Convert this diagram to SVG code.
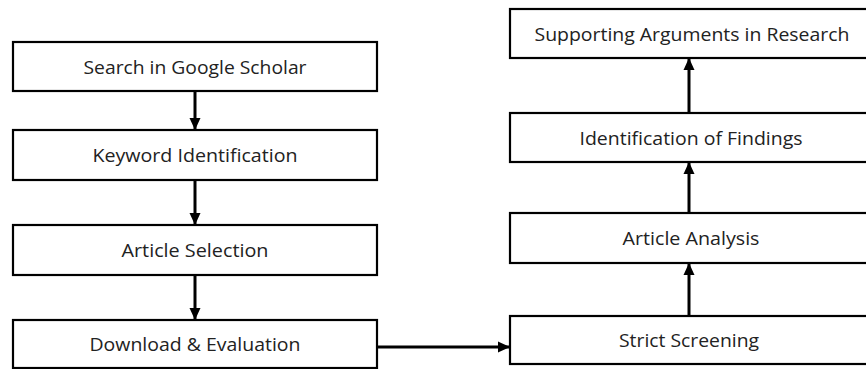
<svg xmlns="http://www.w3.org/2000/svg" width="866" height="369" viewBox="0 0 866 369">
<style>
.box{fill:#fff;stroke:#000;stroke-width:2.2}
.lbl{font-family:"Open Sans","Noto Sans",sans-serif;font-size:18px;fill:#222;text-anchor:middle;dominant-baseline:central}
.con{stroke:#000;stroke-width:3;fill:none}
</style>
<defs>
<marker id="ah" markerUnits="userSpaceOnUse" markerWidth="12" markerHeight="12" viewBox="0 0 12 12" refX="12" refY="6" orient="auto">
<path d="M0,0.5 L12,6 L0,11.5 Z" fill="#000"/>
</marker>
</defs>
<rect width="866" height="369" fill="#fff"/>
<g id="n1"><rect class="box" x="13" y="42" width="364" height="49"/><text class="lbl" x="195" y="66.5" textLength="223" lengthAdjust="spacingAndGlyphs">Search in Google Scholar</text></g>
<g id="n2"><rect class="box" x="13" y="130" width="364" height="50"/><text class="lbl" x="195" y="155" textLength="205" lengthAdjust="spacingAndGlyphs">Keyword Identification</text></g>
<g id="n3"><rect class="box" x="13" y="225" width="364" height="50"/><text class="lbl" x="195" y="250" textLength="147" lengthAdjust="spacingAndGlyphs">Article Selection</text></g>
<g id="n4"><rect class="box" x="13" y="320" width="364" height="48"/><text class="lbl" x="195" y="344" textLength="211" lengthAdjust="spacingAndGlyphs">Download &amp; Evaluation</text></g>
<g id="n5"><rect class="box" x="510" y="316" width="360" height="48"/><text class="lbl" x="689" y="340" textLength="140" lengthAdjust="spacingAndGlyphs">Strict Screening</text></g>
<g id="n6"><rect class="box" x="510" y="213" width="360" height="50"/><text class="lbl" x="691" y="238" textLength="137" lengthAdjust="spacingAndGlyphs">Article Analysis</text></g>
<g id="n7"><rect class="box" x="510" y="113" width="360" height="49"/><text class="lbl" x="691" y="137.5" textLength="223" lengthAdjust="spacingAndGlyphs">Identification of Findings</text></g>
<g id="n8"><rect class="box" x="510" y="9" width="360" height="49"/><text class="lbl" x="692" y="33.5" textLength="315" lengthAdjust="spacingAndGlyphs">Supporting Arguments in Research</text></g>
<g id="connectors">
<line class="con" x1="195" y1="91" x2="195" y2="130" marker-end="url(#ah)"/>
<line class="con" x1="195" y1="180" x2="195" y2="225" marker-end="url(#ah)"/>
<line class="con" x1="195" y1="275" x2="195" y2="320" marker-end="url(#ah)"/>
<line class="con" x1="377" y1="347" x2="510" y2="347" marker-end="url(#ah)"/>
<line class="con" x1="689" y1="316" x2="689" y2="263" marker-end="url(#ah)"/>
<line class="con" x1="689" y1="213" x2="689" y2="162" marker-end="url(#ah)"/>
<line class="con" x1="689" y1="113" x2="689" y2="58" marker-end="url(#ah)"/>
</g>
</svg>
